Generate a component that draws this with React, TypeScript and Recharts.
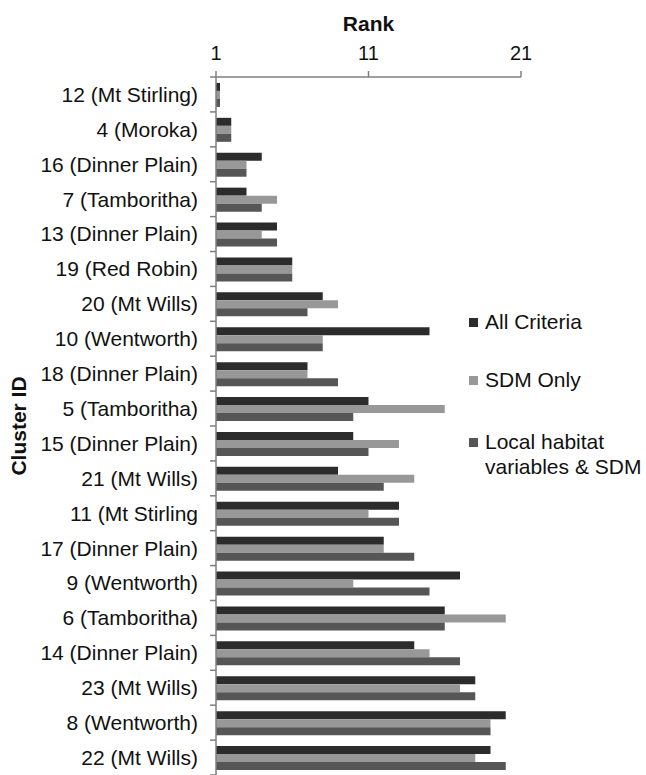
import React from 'react';
import { BarChart, Bar, XAxis, YAxis } from 'recharts';

const categories = [
  '12 (Mt Stirling)', '4 (Moroka)', '16 (Dinner Plain)', '7 (Tamboritha)', '13 (Dinner Plain)',
  '19 (Red Robin)', '20 (Mt Wills)', '10 (Wentworth)', '18 (Dinner Plain)', '5 (Tamboritha)',
  '15 (Dinner Plain)', '21 (Mt Wills)', '11 (Mt Stirling', '17 (Dinner Plain)', '9 (Wentworth)',
  '6 (Tamboritha)', '14 (Dinner Plain)', '23 (Mt Wills)', '8 (Wentworth)', '22 (Mt Wills)',
];
const allCriteria = [1, 2, 4, 3, 5, 6, 8, 15, 7, 11, 10, 9, 13, 12, 17, 16, 14, 18, 20, 19];
const sdmOnly = [1, 2, 3, 5, 4, 6, 9, 8, 7, 16, 13, 14, 11, 12, 10, 20, 15, 17, 19, 18];
const localHabitat = [1, 2, 3, 4, 5, 6, 7, 8, 9, 10, 11, 12, 13, 14, 15, 16, 17, 18, 19, 20];
const rankTicks = [1, 11, 21];
const seriesKeys = ['all', 'sdm', 'local'];
const seriesNames = ['All Criteria', 'SDM Only', 'Local habitat\nvariables & SDM'];
const seriesColors = ['#2c2c2c', '#989898', '#565656'];

const data = categories.map((c, i) => ({
  name: c,
  all: allCriteria[i],
  sdm: sdmOnly[i],
  local: localHabitat[i],
}));

const FONT = '"Liberation Sans", Arial, sans-serif';
const W = 646;
const H = 775;
const TOP = 77;
const YW = 216;
const AXIS = '#7f7f7f';
const BAND = (H - TOP) / categories.length;

const YTick = (props: any) => {
  const { x, y, payload, index } = props;
  return (
    <g>
      <text x={x} y={y} dy="0.35em" textAnchor="end" fontSize={21} fontFamily={FONT} fill="#111">
        {payload.value}
      </text>
      <line x1={x + 12} x2={x + 18} y1={y + BAND / 2} y2={y + BAND / 2} stroke={AXIS} strokeWidth={1.5} />
      {index === 0 && (
        <line x1={x + 12} x2={x + 18} y1={y - BAND / 2} y2={y - BAND / 2} stroke={AXIS} strokeWidth={1.5} />
      )}
    </g>
  );
};

const legendTops = [309, 367, 429];

export default function App() {
  return (
    <div style={{ position: 'absolute', left: 0, top: 0, width: W, height: H, background: '#fff', overflow: 'hidden' }}>
      <BarChart
        width={W}
        height={H}
        data={data}
        layout="vertical"
        margin={{ top: 0, right: W - 521, bottom: 0, left: 0 }}
        barCategoryGap="17%"
        barGap={0}
      >
        <XAxis
          type="number"
          orientation="top"
          domain={[1, 21]}
          ticks={rankTicks}
          allowDataOverflow
          height={TOP}
          stroke={AXIS}
          strokeWidth={1.5}
          tickSize={6}
          tickMargin={11}
          tick={{ fontSize: 20, fontFamily: FONT, fill: '#111' }}
          label={{
            content: (p: any) => {
              const vb = p.viewBox || {};
              return (
                <text x={vb.x + vb.width / 2} y={31} textAnchor="middle" fontSize={21} fontWeight="bold" fontFamily={FONT} fill="#111">
                  Rank
                </text>
              );
            },
          }}
        />
        <YAxis
          type="category"
          dataKey="name"
          width={YW}
          stroke={AXIS}
          strokeWidth={1.5}
          tickLine={false}
          tickSize={6}
          tickMargin={12}
          interval={0}
          tick={<YTick />}
          label={{
            content: (p: any) => {
              const vb = p.viewBox || {};
              const cx = 19;
              const cy = vb.y + vb.height / 2;
              return (
                <text x={cx} y={cy} dy="0.35em" transform={`rotate(-90 ${cx} ${cy})`} textAnchor="middle" fontSize={21} fontWeight="bold" fontFamily={FONT} fill="#111">
                  Cluster ID
                </text>
              );
            },
          }}
        />
        {seriesKeys.map((k, i) => (
          <Bar key={k} dataKey={k} name={seriesNames[i]} fill={seriesColors[i]} minPointSize={4} isAnimationActive={false} />
        ))}
      </BarChart>
      {seriesNames.map((n, i) => (
        <div
          key={n}
          style={{
            position: 'absolute', left: 469, top: legendTops[i], display: 'flex', alignItems: 'flex-start',
            fontFamily: FONT, fontSize: 21, lineHeight: '25px', color: '#111', whiteSpace: 'pre-line',
          }}
        >
          <span style={{ display: 'inline-block', width: 9, height: 9, background: seriesColors[i], marginTop: 9, marginRight: 7, flexShrink: 0 }} />
          <span>{n}</span>
        </div>
      ))}
    </div>
  );
}
